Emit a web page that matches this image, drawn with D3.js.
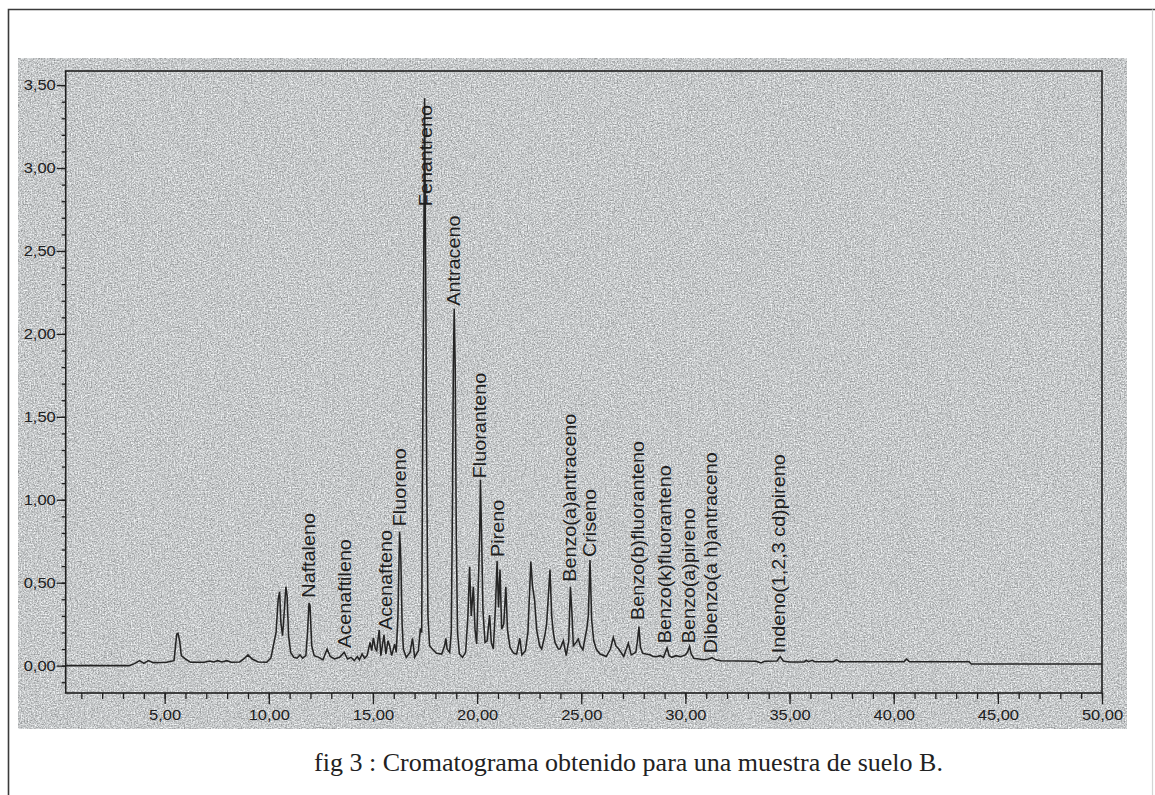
<!DOCTYPE html>
<html>
<head>
<meta charset="utf-8">
<script src="https://cdn.jsdelivr.net/npm/d3@7"></script>
<style>
  html, body { margin: 0; padding: 0; background: #ffffff; }
  svg { display: block; }
</style>
</head>
<body>
<svg id="chart" width="1155" height="795"></svg>
<script>
// ---- Chromatogram trace: retention time (min) and detector signal ----
const retentionTimes = [
  0.25, 3.30, 3.55, 3.80, 4.00, 4.22, 4.45, 5.10, 5.45, 5.58, 5.64, 5.72, 5.80, 6.00, 6.25,
  6.90, 7.15, 7.35, 7.55, 7.75, 7.98, 8.20, 8.60, 8.80, 9.00, 9.20, 9.50, 9.90,
  10.10, 10.22, 10.35, 10.45, 10.52, 10.58, 10.66, 10.74, 10.82, 10.88, 10.95, 11.05, 11.20,
  11.35, 11.50, 11.62, 11.78, 11.86, 11.93, 11.98, 12.06, 12.18, 12.40, 12.60, 12.80, 12.95,
  13.15, 13.40, 13.62, 13.78, 13.95, 14.10, 14.25, 14.35, 14.48, 14.60, 14.72, 14.86, 14.94,
  15.02, 15.12, 15.18, 15.30, 15.38, 15.53, 15.62, 15.72, 15.80, 15.90, 16.04, 16.12, 16.20,
  16.28, 16.34, 16.40, 16.46, 16.60, 16.78, 16.90, 17.00, 17.18, 17.28, 17.34, 17.38, 17.43,
  17.48, 17.54, 17.58, 17.64, 17.72, 17.85, 18.05, 18.30, 18.44, 18.50, 18.56, 18.68, 18.76,
  18.82, 18.86, 18.90, 18.95, 19.00, 19.06, 19.15, 19.30, 19.45, 19.56, 19.64, 19.72, 19.82,
  19.90, 19.98, 20.06, 20.12, 20.16, 20.22, 20.28, 20.38, 20.48, 20.60, 20.68, 20.78, 20.88,
  20.96, 21.03, 21.10, 21.18, 21.28, 21.38, 21.46, 21.58, 21.75, 21.90, 22.05, 22.15, 22.32,
  22.44, 22.58, 22.66, 22.76, 22.86, 23.00, 23.10, 23.25, 23.34, 23.50, 23.58, 23.66, 23.74,
  23.90, 23.98, 24.14, 24.28, 24.40, 24.48, 24.56, 24.62, 24.75, 24.86, 24.95, 25.08, 25.20,
  25.26, 25.34, 25.42, 25.50, 25.60, 25.72, 25.90, 26.20, 26.40, 26.54, 26.66, 26.80, 27.04,
  27.26, 27.40, 27.62, 27.70, 27.77, 27.84, 27.95, 28.10, 28.30, 28.45, 28.60, 28.80, 28.95,
  29.12, 29.22, 29.35, 29.55, 29.77, 30.00, 30.10, 30.20, 30.28, 30.40, 30.65, 30.90, 31.10,
  31.28, 31.45, 31.70, 33.40, 33.62, 33.80, 34.40, 34.55, 34.70, 35.00, 35.70, 35.80, 35.90,
  36.10, 36.20, 37.10, 37.25, 37.40, 40.50, 40.62, 40.75, 43.62, 43.72, 50.00
];
const signal = [
  0.000, 0.000, 0.012, 0.030, 0.014, 0.030, 0.018, 0.020, 0.030, 0.190, 0.195, 0.150, 0.060, 0.040, 0.020,
  0.020, 0.028, 0.022, 0.030, 0.022, 0.030, 0.020, 0.022, 0.040, 0.065, 0.040, 0.022, 0.020,
  0.045, 0.120, 0.200, 0.400, 0.445, 0.260, 0.180, 0.320, 0.476, 0.420, 0.180, 0.080, 0.050,
  0.045, 0.065, 0.045, 0.060, 0.200, 0.377, 0.360, 0.120, 0.060, 0.050, 0.035, 0.100, 0.055,
  0.040, 0.050, 0.080, 0.040, 0.050, 0.030, 0.055, 0.035, 0.070, 0.045, 0.060, 0.140, 0.090,
  0.167, 0.100, 0.090, 0.215, 0.060, 0.185, 0.070, 0.150, 0.120, 0.060, 0.130, 0.080, 0.300,
  0.807, 0.640, 0.250, 0.100, 0.050, 0.080, 0.165, 0.050, 0.090, 0.225, 0.200, 1.200, 2.200,
  3.420, 2.200, 1.200, 0.300, 0.120, 0.100, 0.075, 0.070, 0.120, 0.165, 0.100, 0.080, 0.200,
  1.000, 1.800, 2.150, 1.800, 0.800, 0.200, 0.070, 0.050, 0.080, 0.300, 0.596, 0.300, 0.476,
  0.220, 0.130, 0.500, 0.757, 1.120, 0.757, 0.336, 0.140, 0.150, 0.305, 0.140, 0.100, 0.350,
  0.630, 0.350, 0.580, 0.220, 0.250, 0.476, 0.215, 0.110, 0.075, 0.070, 0.165, 0.065, 0.090,
  0.200, 0.627, 0.480, 0.396, 0.215, 0.120, 0.100, 0.180, 0.255, 0.580, 0.300, 0.200, 0.140,
  0.100, 0.100, 0.150, 0.060, 0.150, 0.476, 0.300, 0.120, 0.140, 0.160, 0.120, 0.095, 0.180,
  0.215, 0.300, 0.637, 0.275, 0.150, 0.100, 0.070, 0.055, 0.100, 0.170, 0.120, 0.100, 0.055,
  0.135, 0.065, 0.080, 0.150, 0.235, 0.110, 0.075, 0.070, 0.065, 0.055, 0.054, 0.060, 0.050,
  0.107, 0.060, 0.050, 0.060, 0.054, 0.065, 0.080, 0.115, 0.070, 0.045, 0.040, 0.035, 0.040,
  0.048, 0.035, 0.030, 0.026, 0.016, 0.026, 0.028, 0.055, 0.028, 0.022, 0.022, 0.032, 0.024,
  0.032, 0.024, 0.024, 0.036, 0.024, 0.024, 0.040, 0.024, 0.024, 0.010, 0.010
];

// ---- Identified compounds (PAH): name, retention time, level where the label starts ----
const compoundNames = [
  "Naftaleno", "Acenaftileno", "Acenafteno", "Fluoreno", "Fenantreno", "Antraceno",
  "Fluoranteno", "Pireno", "Benzo(a)antraceno", "Criseno", "Benzo(b)fluoranteno",
  "Benzo(k)fluoranteno", "Benzo(a)pireno", "Dibenzo(a h)antraceno", "Indeno(1,2,3 cd)pireno"
];
const compoundTimes = [11.90, 13.63, 15.60, 16.30, 17.54, 18.86, 20.14, 21.00, 24.43, 25.42, 27.70, 29.02, 30.17, 31.23, 34.50];
const compoundLabelLevels = [0.41, 0.107, 0.215, 0.84, 2.77, 2.17, 1.13, 0.655, 0.506, 0.655, 0.275, 0.135, 0.135, 0.075, 0.075];

// ---- Axes ----
const timeRange = [0.25, 50];
const signalRange = [-0.165, 3.585];
const xMajorTicks = [5, 10, 15, 20, 25, 30, 35, 40, 45, 50];
const xMinorTicks = d3.range(1, 51);
const yMajorTicks = [0, 0.5, 1, 1.5, 2, 2.5, 3, 3.5];
const yMinorTicks = d3.range(-1, 36).map(i => i / 10);

const captionText = "fig 3 : Cromatograma obtenido para una muestra de suelo B.";

// ---- Layout ----
const W = 1155, H = 795;
const frame = { left: 65.7, top: 71, right: 1102, bottom: 693 };
const panel = { left: 18, top: 58, right: 1127, bottom: 729 };
const ink = "#1f1f1f";

const svg = d3.select("#chart");

// scanned-paper grain for the grey panel
const defs = svg.append("defs");
const grain = defs.append("filter")
  .attr("id", "grain")
  .attr("x", 0).attr("y", 0).attr("width", 1).attr("height", 1)
  .attr("color-interpolation-filters", "sRGB");
grain.append("feTurbulence")
  .attr("type", "fractalNoise").attr("baseFrequency", 0.7)
  .attr("numOctaves", 3).attr("seed", 11).attr("result", "noise");
grain.append("feColorMatrix")
  .attr("in", "noise").attr("type", "matrix")
  .attr("values", "0.62 0 0 0 0.465  0.62 0 0 0 0.475  0.62 0 0 0 0.48  0 0 0 0 1");

svg.append("rect").attr("width", W).attr("height", H).attr("fill", "#ffffff");

// page border
svg.append("path")
  .attr("d", `M8.5,${H} V9.5 H${W}`)
  .attr("fill", "none").attr("stroke", "#3a3a3a").attr("stroke-width", 1.6);
svg.append("line")
  .attr("x1", 1152.5).attr("x2", 1152.5).attr("y1", 9.5).attr("y2", H)
  .attr("stroke", "#d4d4d4").attr("stroke-width", 1.2);

// grey panel
svg.append("rect")
  .attr("x", panel.left).attr("y", panel.top)
  .attr("width", panel.right - panel.left).attr("height", panel.bottom - panel.top)
  .attr("fill", "#c6c9c9")
  .attr("filter", "url(#grain)");

// scales
const x = d3.scaleLinear().domain(timeRange).range([frame.left, frame.right]);
const y = d3.scaleLinear().domain(signalRange).range([frame.bottom, frame.top]);

const comma = d3.formatLocale({ decimal: ",", thousands: ".", grouping: [3], currency: ["", ""] }).format(".2f");

function styleAxis(g) {
  g.select(".domain").remove();
  g.selectAll(".tick line").attr("stroke", ink).attr("stroke-width", 1.3);
  g.selectAll(".tick text")
    .attr("fill", "#202020")
    .style("font-family", "'Liberation Sans', Arial, sans-serif")
    .style("font-size", "15px");
}

// x axis: minor ticks every minute, labelled major ticks every 5 min
svg.append("g")
  .attr("transform", `translate(0,${frame.bottom})`)
  .call(d3.axisBottom(x).tickValues(xMinorTicks).tickSize(6).tickFormat(""))
  .call(styleAxis);
const gxMajor = svg.append("g")
  .attr("transform", `translate(0,${frame.bottom})`)
  .call(d3.axisBottom(x).tickValues(xMajorTicks).tickSize(11).tickPadding(5).tickFormat(comma))
  .call(styleAxis);
gxMajor.selectAll(".tick text").attr("transform", "scale(1.1,1)");

// y axis: minor ticks every 0.1, labelled major ticks every 0.5
svg.append("g")
  .attr("transform", `translate(${frame.left},0)`)
  .call(d3.axisLeft(y).tickValues(yMinorTicks).tickSize(4).tickFormat(""))
  .call(styleAxis);
const gyMajor = svg.append("g")
  .attr("transform", `translate(${frame.left},0)`)
  .call(d3.axisLeft(y).tickValues(yMajorTicks).tickSize(9).tickPadding(1).tickFormat(comma))
  .call(styleAxis);
gyMajor.selectAll(".tick text").each(function () {
  const t = d3.select(this);
  const ax = +t.attr("x");
  t.attr("transform", `translate(${ax},0) scale(1.1,1) translate(${-ax},0)`);
});

// plot frame
svg.append("rect")
  .attr("x", frame.left).attr("y", frame.top)
  .attr("width", frame.right - frame.left).attr("height", frame.bottom - frame.top)
  .attr("fill", "none").attr("stroke", ink).attr("stroke-width", 1.6);

// chromatogram trace
const trace = retentionTimes.map((t, i) => [t, signal[i]]);
svg.append("path")
  .datum(trace)
  .attr("fill", "none")
  .attr("stroke", "#242424")
  .attr("stroke-width", 1.55)
  .attr("stroke-linejoin", "miter")
  .attr("d", d3.line().x(d => x(d[0])).y(d => y(d[1])));

// compound labels, written upward from their anchor level
svg.append("g")
  .selectAll("text")
  .data(compoundNames)
  .join("text")
  .attr("transform", (d, i) => `translate(${x(compoundTimes[i])},${y(compoundLabelLevels[i])}) rotate(-90) scale(1.13,1)`)
  .attr("dy", "0.36em")
  .attr("text-anchor", "start")
  .attr("fill", "#1e1e1e")
  .style("font-family", "'Liberation Sans', Arial, sans-serif")
  .style("font-size", "17.5px")
  .text(d => d);

// caption
svg.append("text")
  .attr("x", 628.5).attr("y", 771)
  .attr("text-anchor", "middle")
  .attr("fill", "#222222")
  .style("font-family", "'Liberation Serif', 'Times New Roman', serif")
  .style("font-size", "26px")
  .text(captionText);
</script>
</body>
</html>
